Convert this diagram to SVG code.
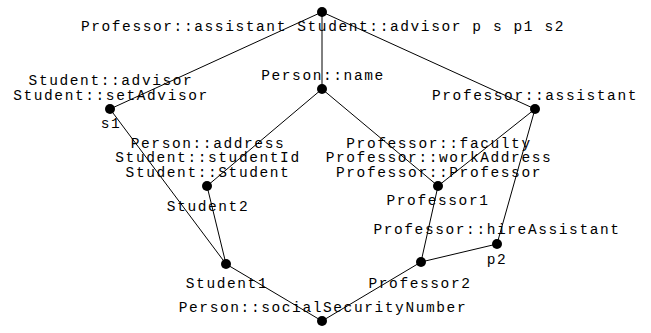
<svg xmlns="http://www.w3.org/2000/svg" width="651" height="333" viewBox="0 0 651 333">
<style>
text{font-family:"Liberation Mono","Courier New",monospace;font-size:14.5px;letter-spacing:1.6px;fill:#000;text-anchor:middle}
line{stroke:#000;stroke-width:1}
circle{fill:#000}
</style>
<rect width="651" height="333" fill="#fff"/>
<g id="connectors">
<line x1="322" y1="12" x2="322" y2="89"/>
<line x1="322" y1="12" x2="110" y2="109"/>
<line x1="322" y1="12" x2="535" y2="109"/>
<line x1="322" y1="89" x2="207" y2="186"/>
<line x1="322" y1="89" x2="438" y2="186"/>
<line x1="110" y1="109" x2="226" y2="264"/>
<line x1="207" y1="186" x2="226" y2="264"/>
<line x1="226" y1="264" x2="322" y2="321"/>
<line x1="535" y1="109" x2="438" y2="186"/>
<line x1="535" y1="109" x2="497" y2="244"/>
<line x1="438" y1="186" x2="421" y2="262"/>
<line x1="497" y1="244" x2="421" y2="262"/>
<line x1="421" y1="262" x2="322" y2="321"/>
</g>
<g id="top"><circle cx="322" cy="12" r="5"/><text x="323" y="31">Professor::assistant Student::advisor p s p1 s2</text></g>
<g id="name"><circle cx="322" cy="89" r="5"/><text x="323" y="80">Person::name</text></g>
<g id="s1"><circle cx="110" cy="109" r="5"/><text x="111" y="85">Student::advisor</text><text x="111" y="100">Student::setAdvisor</text><text x="111" y="128">s1</text></g>
<g id="assistant"><circle cx="535" cy="109" r="5"/><text x="535" y="100">Professor::assistant</text></g>
<g id="student2"><circle cx="207" cy="186" r="5"/><text x="208" y="148">Person::address</text><text x="208" y="162">Student::studentId</text><text x="208" y="177">Student::Student</text><text x="208" y="211">Student2</text></g>
<g id="professor1"><circle cx="438" cy="186" r="5"/><text x="439" y="148">Professor::faculty</text><text x="439" y="162">Professor::workAddress</text><text x="439" y="177">Professor::Professor</text><text x="438" y="205">Professor1</text></g>
<g id="p2"><circle cx="497" cy="244" r="5"/><text x="497" y="234">Professor::hireAssistant</text><text x="497" y="264">p2</text></g>
<g id="student1"><circle cx="226" cy="264" r="5"/><text x="227" y="288">Student1</text></g>
<g id="professor2"><circle cx="421" cy="262" r="5"/><text x="420" y="288">Professor2</text></g>
<g id="bottom"><circle cx="322" cy="321" r="5"/><text x="323" y="312">Person::socialSecurityNumber</text></g>
</svg>
